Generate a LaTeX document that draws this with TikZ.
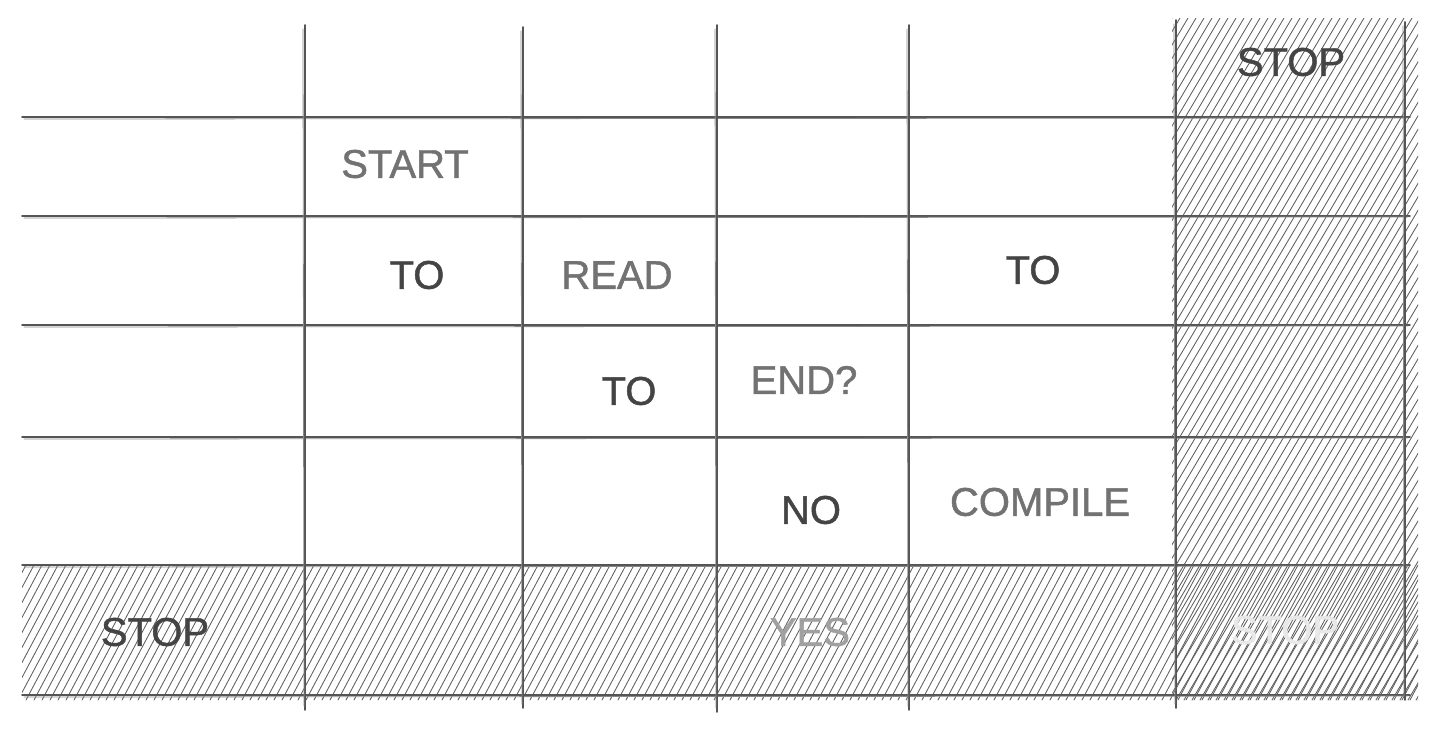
\documentclass[tikz,border=0pt]{standalone}
\usepackage{fontspec}
\setmainfont{Liberation Sans}
\newfontfamily\handfont[FakeBold=1.2]{Liberation Sans}
\definecolor{inkdark}{HTML}{444444}
\definecolor{inkline}{HTML}{555555}
\definecolor{inkhatch}{HTML}{5E5E5E}
\definecolor{inkmid}{HTML}{727272}
\definecolor{inklight}{HTML}{A0A0A0}
\definecolor{inkpale}{HTML}{E8E8E8}

\begin{document}
\begin{tikzpicture}[
            x=1pt, y=-1pt,
            gridline/.style={line width=1.8pt, draw=inkline, line cap=round},
            gridshadow/.style={line width=0.8pt, draw=inkline!70, line cap=round},
            hatch/.style={line width=0.85pt, draw=inkhatch, line cap=round},
            word/.style={font=\handfont\fontsize{40}{40}\selectfont, inner sep=0pt},
        ]
            \useasboundingbox (0,0) rectangle (1433,731);

            % --- Schraffur: untere Zeile und rechte Spalte ---
            \begin{scope}
                \clip (22,565) rectangle (1418,700);
                \foreach \x in {-70,-62,...,1420} {
                    \draw[hatch] (\x,700) -- ++(72,-135);
                }
            \end{scope}
            \begin{scope}
                \clip (1172,18) rectangle (1418,700);
                \foreach \x in {760,768,...,1420} {
                    \draw[hatch] (\x,700) -- ++(404,-682);
                }
            \end{scope}

            % --- Waagrechte Linien ---
            \foreach \y in {117, 216, 325, 437, 565, 695} {
                \draw[gridline] (22,\y) -- (1410,\y);
                \draw[gridshadow] (24,\y+2) -- (1408,\y+1);
            }

            % --- Senkrechte Linien ---
            \foreach \x/\a/\b in {305/25/710, 523/27/708, 717/25/712, 909/25/710, 1176/20/708, 1405/22/700} {
                \draw[gridline] (\x,\a) -- (\x,\b);
                \draw[gridshadow] (\x-2,\a+4) -- (\x-1,\b-4);
            }

            % --- Beschriftungen ---
            \node[word, inkdark] (stopTop) at (1291,62) {STOP};
            \node[word, inkmid] (start) at (405,164) {START};
            \node[word, inkdark] (toA) at (417,275) {TO};
            \node[word, inkmid] (read) at (617,275) {READ};
            \node[word, inkdark] (toB) at (1033,270) {TO};
            \node[word, inkdark] (toC) at (629,391) {TO};
            \node[word, inkmid] (endQ) at (804,380) {END?};
            \node[word, inkdark] (no) at (811,510) {NO};
            \node[word, inkmid] (compile) at (1040,502) {COMPILE};
            \node[word, inkdark] (stopLeft) at (155,632) {STOP};
            \node[word, inklight] (yes) at (810,632) {YES};
            \node[word, inkpale] (stopCorner) at (1285,630) {STOP};
        \end{tikzpicture}
\end{document}
